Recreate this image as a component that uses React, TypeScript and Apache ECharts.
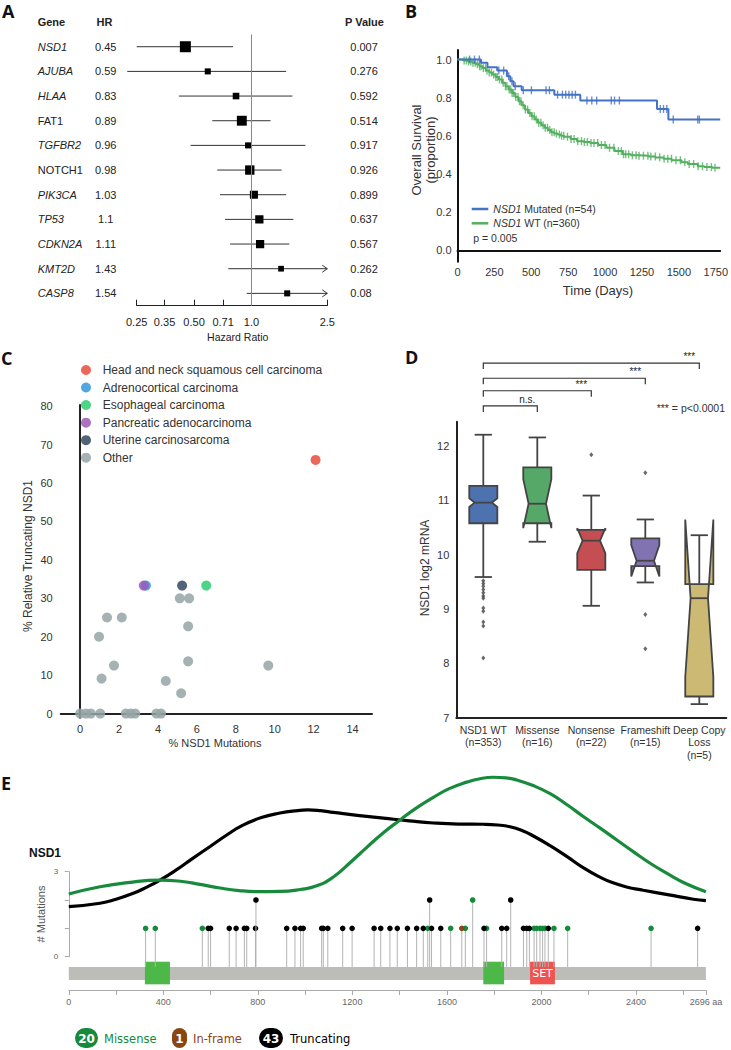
import React, { useEffect, useRef } from "react";
import * as echarts from "echarts";

const FONT = "'Liberation Sans', Arial, Helvetica, sans-serif";
const INK = "#222222";

// ---------------- Panel A : hazard ratios ----------------
const genes = ["NSD1", "AJUBA", "HLAA", "FAT1", "TGFBR2", "NOTCH1", "PIK3CA", "TP53", "CDKN2A", "KMT2D", "CASP8"];
const geneItalic = [true, true, true, false, true, false, true, true, true, true, true];
const hazardRatios = [0.45, 0.59, 0.83, 0.89, 0.96, 0.98, 1.03, 1.1, 1.11, 1.43, 1.54];
const hazardRatioLabels = ["0.45", "0.59", "0.83", "0.89", "0.96", "0.98", "1.03", "1.1", "1.11", "1.43", "1.54"];
const ciLower = [0.25, 0.223, 0.416, 0.623, 0.479, 0.662, 0.684, 0.727, 0.772, 0.756, 0.945];
const ciUpper = [0.8, 1.52, 1.64, 1.26, 1.92, 1.44, 1.52, 1.66, 1.58, 3.1, 3.4];
const pValueLabels = ["0.007", "0.276", "0.592", "0.514", "0.917", "0.926", "0.899", "0.637", "0.567", "0.262", "0.08"];
const studyWeights = [1.0, 0.55, 0.6, 0.9, 0.55, 0.85, 0.73, 0.75, 0.75, 0.52, 0.55];
const hrTicks = [0.25, 0.35, 0.5, 0.71, 1.0, 2.5];
const hrTickLabels = ["0.25", "0.35", "0.50", "0.71", "1.0", "2.5"];
const HR_MIN = 0.25;
const HR_MAX = 2.5;

// ---------------- Panel B : Kaplan-Meier ----------------
const mutatedSteps = [
  [0, 1.0], [159, 0.983], [203, 0.96], [269, 0.942], [335, 0.913], [358, 0.886], [380, 0.86],
  [435, 0.839], [656, 0.816], [832, 0.785], [1352, 0.741], [1429, 0.685], [1780, 0.685],
];
const mutatedCensored = [82, 115, 148, 280, 313, 347, 369, 391, 446, 501, 600, 623, 678, 711, 733, 755, 777, 799, 877, 910, 943, 1042, 1064, 1097, 1374, 1396, 1418, 1462, 1628, 1639];
const wtSteps = [
  [0, 1.0], [40, 0.995], [70, 0.99], [100, 0.983], [125, 0.975], [148, 0.965], [170, 0.955], [192, 0.942],
  [215, 0.932], [236, 0.921], [258, 0.908], [280, 0.895], [302, 0.878], [325, 0.86], [347, 0.843],
  [369, 0.825], [391, 0.803], [413, 0.781], [435, 0.76], [457, 0.738], [479, 0.72], [501, 0.703],
  [523, 0.685], [545, 0.668], [568, 0.655], [590, 0.642], [612, 0.63], [634, 0.619], [656, 0.612],
  [678, 0.607], [700, 0.601], [722, 0.595], [766, 0.583], [810, 0.572], [855, 0.567], [899, 0.562],
  [954, 0.552], [1009, 0.537], [1064, 0.52], [1120, 0.503], [1175, 0.498], [1230, 0.496], [1296, 0.492],
  [1341, 0.487], [1396, 0.48], [1451, 0.472], [1518, 0.462], [1561, 0.452], [1628, 0.44], [1672, 0.436],
  [1727, 0.432], [1780, 0.43],
];
const wtCensored = [45, 60, 75, 90, 105, 120, 135, 150, 160, 175, 190, 200, 215, 230, 245, 260, 270, 285, 300, 310, 325, 335, 350, 360, 370, 380, 395, 410, 420, 430, 445, 460, 475, 490, 505, 520, 535, 550, 565, 580, 595, 610, 625, 640, 655, 670, 690, 705, 720, 745, 770, 790, 815, 840, 860, 880, 905, 925, 950, 975, 1000, 1030, 1060, 1090, 1110, 1125, 1140, 1160, 1185, 1210, 1230, 1260, 1290, 1310, 1340, 1370, 1400, 1425, 1450, 1480, 1510, 1540, 1570, 1600, 1630, 1660, 1690, 1720, 1745];
const survivalTicks = [0, 0.2, 0.4, 0.6, 0.8, 1.0];

// ---------------- Panel C : scatter ----------------
const cancerTypes = ["Head and neck squamous cell carcinoma", "Adrenocortical carcinoma", "Esophageal carcinoma", "Pancreatic adenocarcinoma", "Uterine carcinosarcoma", "Other"];
const hnsccPoints = [[12.1, 66.0]];
const adrenocorticalPoints = [[3.38, 33.3]];
const esophagealPoints = [[6.48, 33.3]];
const pancreaticPoints = [[3.27, 33.3]];
const uterinePoints = [[5.24, 33.3]];
const otherPoints = [
  [5.12, 30], [5.6, 30], [1.38, 25], [2.14, 25], [5.55, 22.7], [0.97, 20], [1.74, 12.5], [5.55, 13.6],
  [9.67, 12.5], [1.1, 9.1], [4.4, 8.5], [5.19, 5.3], [0, 0], [0.3, 0], [0.55, 0], [1.03, 0], [2.35, 0],
  [2.6, 0], [2.83, 0], [3.92, 0], [4.16, 0],
];
const mutationPctTicks = [0, 2, 4, 6, 8, 10, 12, 14];
const truncPctTicks = [0, 10, 20, 30, 40, 50, 60, 70, 80];

// ---------------- Panel D : box plots ----------------
const boxCategories = ["NSD1 WT\n(n=353)", "Missense\n(n=16)", "Nonsense\n(n=22)", "Frameshift\n(n=15)", "Deep Copy\nLoss\n(n=5)"];
const boxLow = [9.59, 10.24, 9.06, 9.49, 7.25];
const boxQ1 = [10.58, 10.58, 9.72, 9.79, 7.39];
const boxMedian = [10.96, 10.94, 10.26, 9.89, 9.2];
const boxQ3 = [11.27, 11.61, 10.46, 10.3, 9.46];
const boxHigh = [12.21, 12.16, 11.09, 10.65, 10.36];
const boxNotch = [0.08, 0.45, 0.23, 0.29, 1.45];
const outlierCategory = [0, 0, 0, 0, 0, 0, 0, 0, 0, 0, 0, 0, 2, 3, 3, 3];
const outlierValue = [9.52, 9.47, 9.42, 9.36, 9.3, 9.24, 9.2, 9.02, 8.96, 8.76, 8.69, 8.1, 11.84, 11.51, 8.9, 8.27];
const bracketTarget = [1, 2, 3, 4];
const bracketLevel = [12.74, 13.02, 13.25, 13.53];
const bracketLabel = ["n.s.", "***", "***", "***"];
const mrnaTicks = [7, 8, 9, 10, 11, 12];

// ---------------- Panel E : lollipop ----------------
const PROTEIN_LENGTH = 2696;
const proteinDomains = [[0, 2696, 0], [322, 428, 1], [1754, 1842, 1], [1952, 2057, 2]];
const missensePos = [325, 366, 565, 1519, 1616, 1678, 1709, 1768, 1969, 1980, 1994, 2005, 2015, 2053, 2111, 2464];
const missenseCount = [1, 1, 1, 1, 1, 1, 2, 1, 1, 1, 1, 1, 1, 1, 1, 1];
const inframePos = [1663];
const inframeCount = [1];
const truncPos = [590, 600, 679, 708, 743, 753, 790, 792, 922, 957, 981, 992, 1070, 1077, 1096, 1159, 1199, 1292, 1320, 1359, 1390, 1433, 1472, 1500, 1527, 1535, 1574, 1757, 1832, 1853, 1870, 1924, 1938, 1949, 2029, 2661];
const truncCount = [1, 1, 1, 1, 1, 1, 1, 2, 1, 1, 1, 1, 1, 1, 1, 1, 1, 1, 1, 1, 1, 1, 1, 1, 2, 1, 1, 1, 1, 1, 2, 1, 1, 1, 1, 1];
const missenseDensity = [
  [0, 0.347], [132, 0.387], [250, 0.41], [386, 0.424], [480, 0.416], [555, 0.4], [640, 0.38], [720, 0.366],
  [800, 0.36], [894, 0.361], [980, 0.372], [1049, 0.392], [1118, 0.44], [1190, 0.52], [1261, 0.605],
  [1330, 0.685], [1402, 0.757], [1470, 0.822], [1543, 0.882], [1610, 0.93], [1684, 0.966], [1740, 0.985],
  [1796, 0.993], [1850, 0.99], [1895, 0.978], [1965, 0.947], [2037, 0.902], [2107, 0.842], [2177, 0.776],
  [2250, 0.71], [2319, 0.646], [2390, 0.58], [2460, 0.517], [2530, 0.462], [2610, 0.405], [2696, 0.36],
];
const truncDensity = [
  [0, 0.277], [132, 0.296], [200, 0.318], [273, 0.351], [330, 0.385], [386, 0.424], [450, 0.476],
  [520, 0.54], [598, 0.61], [670, 0.675], [737, 0.728], [815, 0.77], [894, 0.795], [955, 0.807],
  [1012, 0.812], [1065, 0.808], [1119, 0.799], [1230, 0.781], [1331, 0.767], [1440, 0.752], [1543, 0.74],
  [1650, 0.734], [1754, 0.733], [1815, 0.729], [1867, 0.719], [1920, 0.697], [1966, 0.668], [2040, 0.612],
  [2107, 0.555], [2180, 0.49], [2248, 0.44], [2300, 0.41], [2360, 0.386], [2431, 0.368], [2540, 0.342],
  [2643, 0.318], [2696, 0.31],
];
const proteinTicks = [0, 200, 400, 600, 800, 1000, 1200, 1400, 1600, 1800, 2000, 2200, 2400, 2600, 2696];
const proteinLabels = [0, 400, 800, 1200, 1600, 2000, 2400, 2696];
const legendCounts = ["20", "1", "43"];
const legendNames = ["Missense", "In-frame", "Truncating"];

// ---------------- helpers ----------------
function kmAt(steps: number[][], t: number) {
  let s = steps[0][1];
  for (const [d, v] of steps) { if (d <= t) s = v; else break; }
  return s;
}

const MUT_BLUE = "#4472c4";
const WT_GREEN = "#52b05f";
const SCATTER_COLORS = ["#e74c3c", "#3498db", "#2ecc71", "#9b59b6", "#34495e", "#95a5a6"];
const BOX_COLORS = ["#4c72b0", "#55a868", "#c44e52", "#8172b2", "#ccb974"];
const MISSENSE_GREEN = "#148a3a";
const INFRAME_BROWN = "#8b4513";

function buildOption(): any {
  const lnMin = Math.log(HR_MIN);
  const lnMax = Math.log(HR_MAX);
  const forestRows = genes.map((g, i) => [Math.log(hazardRatios[i]), i, Math.log(ciLower[i]), Math.log(ciUpper[i]), studyWeights[i]]);
  const lnTicks = hrTicks.map((t) => Math.log(t));

  const boxRows = boxCategories.map((c, i) => [i, boxLow[i], boxQ1[i], boxMedian[i], boxQ3[i], boxHigh[i], boxNotch[i]]);
  const outliers = outlierValue.map((v, i) => [outlierCategory[i], v]);
  const brackets = bracketTarget.map((t, i) => [t, bracketLevel[i], i]);

  const lollipops: number[][] = [];
  missensePos.forEach((p, i) => lollipops.push([p, missenseCount[i], 0]));
  inframePos.forEach((p, i) => lollipops.push([p, inframeCount[i], 1]));
  truncPos.forEach((p, i) => lollipops.push([p, truncCount[i], 2]));
  const lolliColors = [MISSENSE_GREEN, INFRAME_BROWN, "#000000"];

  const txt = (x: number, y: number, text: string, st: any = {}, extra: any = {}) => ({
    type: "text", x, y, ...extra,
    style: { text, fontFamily: FONT, fontSize: 11, fill: INK, align: "left", verticalAlign: "middle", ...st },
  });
  const letter = (x: number, y: number, t: string) => txt(x, y, t, { fontSize: 18, fontWeight: "bold", fontFamily: "'Open Sans', 'Liberation Sans', sans-serif", verticalAlign: "middle", fill: "#111" });

  const graphic: any[] = [
    letter(2, 11, "A"), letter(405, 11, "B"), letter(1, 358, "C"), letter(405, 357, "D"), letter(1, 783, "E"),
    // A headers
    txt(37.7, 22.3, "Gene", { fontWeight: "bold" }),
    txt(96.5, 22.3, "HR", { fontWeight: "bold" }),
    txt(345, 22.3, "P Value", { fontWeight: "bold" }),
    txt(237.7, 336.7, "Hazard Ratio", { align: "center", fontSize: 10.5 }),
    // B titles & legend
    txt(416.5, 150, "Overall Survival", { align: "center", fontSize: 13, fill: "#333" }, { rotation: Math.PI / 2 }),
    txt(430, 150, "(proportion)", { align: "center", fontSize: 13, fill: "#333" }, { rotation: Math.PI / 2 }),
    txt(598, 290.7, "Time (Days)", { align: "center", fontSize: 13, fill: "#333" }),
    { type: "line", shape: { x1: 471.7, y1: 209, x2: 488.3, y2: 209 }, style: { stroke: MUT_BLUE, lineWidth: 2.5 } },
    { type: "line", shape: { x1: 471.7, y1: 223.3, x2: 488.3, y2: 223.3 }, style: { stroke: WT_GREEN, lineWidth: 2.5 } },
    txt(493.3, 209, "{i|NSD1} Mutated (n=54)", { fontSize: 10.5, fill: "#333", rich: { i: { fontStyle: "italic", fontSize: 10.5, fontFamily: FONT, fill: "#333" } } }),
    txt(493.3, 223.3, "{i|NSD1} WT (n=360)", { fontSize: 10.5, fill: "#333", rich: { i: { fontStyle: "italic", fontSize: 10.5, fontFamily: FONT, fill: "#333" } } }),
    txt(473.3, 238.3, "p = 0.005", { fontSize: 10.5, fill: "#333" }),
    // C titles
    txt(28, 556, "% Relative Truncating NSD1", { align: "center", fontSize: 12, fill: "#333" }, { rotation: Math.PI / 2 }),
    txt(215, 743.3, "% NSD1 Mutations", { align: "center", fontSize: 11, fill: "#333" }),
    // D titles
    txt(425, 568, "NSD1 log2 mRNA", { align: "center", fontSize: 12, fill: "#333" }, { rotation: Math.PI / 2 }),
    txt(725, 408.3, "*** = p<0.0001", { align: "right", fontSize: 10.5, fill: "#333" }),
    // E titles
    txt(29, 853, "NSD1", { fontWeight: "bold", fontSize: 12, fill: "#111" }),
    txt(41, 914, "# Mutations", { align: "center", fontSize: 11, fill: "#555" }, { rotation: Math.PI / 2 }),
  ];
  // C legend
  const legendYs = [370, 387.5, 405, 422.7, 440.2, 457.7];
  cancerTypes.forEach((name, i) => {
    graphic.push({ type: "circle", shape: { cx: 86, cy: legendYs[i], r: 5 }, style: { fill: SCATTER_COLORS[i], opacity: 0.85 } });
    graphic.push(txt(102.7, legendYs[i], name, { fontSize: 12, fill: "#333" }));
  });
  // E legend
  const pill = [[75, 23], [172, 15], [259, 24]];
  const nameX = [104, 193, 290];
  const pillCol = [MISSENSE_GREEN, INFRAME_BROWN, "#000"];
  legendCounts.forEach((c, i) => {
    graphic.push({ type: "rect", shape: { x: pill[i][0], y: 1028, width: pill[i][1], height: 20, r: pill[i][1] / 2 }, style: { fill: pillCol[i] } });
    graphic.push(txt(pill[i][0] + pill[i][1] / 2, 1038.5, c, { align: "center", fill: "#fff", fontWeight: "bold", fontSize: 12, fontFamily: "'DejaVu Sans', sans-serif" }));
    graphic.push(txt(nameX[i], 1038.5, legendNames[i], { fill: pillCol[i], fontSize: 11.5, fontFamily: "'DejaVu Sans', sans-serif" }));
  });

  return {
    animation: false,
    backgroundColor: "#ffffff",
    textStyle: { fontFamily: FONT },
    graphic,
    grid: [
      { left: 136.7, top: 34.4, width: 190.6, height: 271.3 },
      { left: 457.5, top: 50, width: 269.2, height: 211.7 },
      { left: 60.7, top: 405, width: 311.3, height: 312.7 },
      { left: 456.3, top: 421.7, width: 270, height: 296 },
      { left: 68.8, top: 871.7, width: 637.1, height: 85 },
      { left: 68.8, top: 989, width: 637.1, height: 1 },
    ],
    xAxis: [
      {
        gridIndex: 0, type: "value", min: lnMin, max: lnMax,
        axisLine: { show: true, lineStyle: { color: "#222", width: 1 } },
        axisTick: { show: true, inside: true, length: 6, customValues: lnTicks, lineStyle: { color: "#222" } },
        axisLabel: {
          customValues: lnTicks, margin: 11, fontSize: 11, color: INK,
          formatter: (v: number) => { const k = lnTicks.findIndex((t) => Math.abs(t - v) < 1e-6); return k >= 0 ? hrTickLabels[k] : ""; },
        },
        splitLine: { show: false },
      },
      {
        gridIndex: 1, type: "value", min: 0, max: 1780, interval: 250,
        axisLine: { show: true, lineStyle: { color: "#111", width: 2 } },
        axisTick: { show: false }, splitLine: { show: false },
        axisLabel: { fontSize: 11, color: "#333", margin: 5, formatter: (v: number) => String(v) },
      },
      {
        gridIndex: 2, type: "value", min: -1, max: 15,
        axisLine: { show: true, lineStyle: { color: "#222", width: 2 } },
        axisTick: { show: false }, splitLine: { show: false },
        axisLabel: { customValues: mutationPctTicks, fontSize: 11, color: "#333", margin: 6 },
      },
      {
        gridIndex: 3, type: "category", data: boxCategories,
        axisLine: { show: true, lineStyle: { color: "#222", width: 2 } },
        axisTick: { show: false },
        axisLabel: { interval: 0, fontSize: 10.5, color: "#333", lineHeight: 12.5, margin: 6 },
      },
      { gridIndex: 4, type: "value", min: 0, max: PROTEIN_LENGTH, show: false },
      {
        gridIndex: 5, type: "value", min: 0, max: PROTEIN_LENGTH,
        axisLine: { show: true, lineStyle: { color: "#aaa", width: 1 } },
        axisTick: { show: true, length: 5, customValues: proteinTicks, lineStyle: { color: "#aaa" } },
        axisLabel: { customValues: proteinLabels, fontSize: 9, color: "#666", margin: 7, formatter: (v: number) => (v === PROTEIN_LENGTH ? PROTEIN_LENGTH + " aa" : String(v)) },
        splitLine: { show: false },
      },
    ],
    yAxis: [
      {
        gridIndex: 0, type: "category", data: genes, inverse: true,
        axisLine: { show: false }, axisTick: { show: false },
        axisLabel: {
          align: "left", margin: 99, fontSize: 11, color: INK,
          formatter: (v: string, idx: number) => (geneItalic[idx] ? `{i|${v}}` : `{n|${v}}`),
          rich: { i: { fontStyle: "italic", fontSize: 11, color: INK, fontFamily: FONT }, n: { fontSize: 11, color: INK, fontFamily: FONT } },
        },
      },
      {
        gridIndex: 0, type: "category", data: hazardRatioLabels, inverse: true, position: "left",
        axisLine: { show: false }, axisTick: { show: false },
        axisLabel: { align: "center", margin: 31, fontSize: 11, color: INK },
      },
      {
        gridIndex: 0, type: "category", data: pValueLabels, inverse: true, position: "right",
        axisLine: { show: false }, axisTick: { show: false },
        axisLabel: { align: "left", margin: 23, fontSize: 11, color: INK },
      },
      {
        gridIndex: 1, type: "value", min: -0.06, max: 1.05,
        axisLine: { show: true, lineStyle: { color: "#111", width: 2 } },
        axisTick: { show: false }, splitLine: { show: false },
        axisLabel: { customValues: survivalTicks, fontSize: 11, color: "#333", margin: 6, formatter: (v: number) => v.toFixed(1) },
      },
      {
        gridIndex: 2, type: "value", min: -1.07, max: 80.3,
        axisLine: { show: true, lineStyle: { color: "#222", width: 2 } },
        axisTick: { show: false }, splitLine: { show: false },
        axisLabel: { customValues: truncPctTicks, fontSize: 11, color: "#333", margin: 8 },
      },
      {
        gridIndex: 3, type: "value", min: 7, max: 12.45,
        axisLine: { show: true, lineStyle: { color: "#222", width: 2 } },
        axisTick: { show: false }, splitLine: { show: false },
        axisLabel: { customValues: mrnaTicks, fontSize: 11, color: "#333", margin: 7 },
      },
      {
        gridIndex: 4, type: "value", min: 0, max: 3, interval: 1, offset: 5.5,
        axisLine: { show: true, lineStyle: { color: "#aaa", width: 1 } },
        axisTick: { show: true, length: 4, lineStyle: { color: "#aaa" } },
        splitLine: { show: false },
        axisLabel: { fontSize: 8, color: "#666", margin: 5, formatter: (v: number) => (v === 0 || v === 3 ? String(v) : "") },
      },
      { gridIndex: 4, type: "value", min: 0, max: 0.4704, show: false },
      { gridIndex: 5, type: "value", min: 0, max: 1, show: false },
    ],
    series: [
      // ---- A forest
      {
        type: "custom", xAxisIndex: 0, yAxisIndex: 0, data: forestRows, encode: { x: [0, 2], y: 1 }, clip: false,
        renderItem: (params: any, api: any) => {
          const row = api.value(1);
          const c = api.coord([api.value(0), row]);
          const lo = api.coord([api.value(2), row]);
          const hiV = api.value(3);
          const over = hiV > lnMax;
          const hi = api.coord([over ? lnMax : hiV, row]);
          const s = api.value(4) * 11;
          const children: any[] = [
            { type: "line", shape: { x1: lo[0], y1: c[1], x2: hi[0], y2: c[1] }, style: { stroke: "#333", lineWidth: 1 } },
            { type: "rect", shape: { x: c[0] - s / 2, y: c[1] - s / 2, width: s, height: s }, style: { fill: "#000" } },
          ];
          if (over) {
            children.push({ type: "polyline", shape: { points: [[hi[0] - 5, c[1] - 3.5], [hi[0], c[1]], [hi[0] - 5, c[1] + 3.5]] }, style: { stroke: "#333", fill: "none", lineWidth: 1 } });
          }
          return { type: "group", children };
        },
        markLine: { silent: true, symbol: ["none", "none"], label: { show: false }, lineStyle: { color: "#888", type: "solid", width: 1 }, data: [{ xAxis: 0 }] },
      },
      // ---- B KM
      { type: "line", xAxisIndex: 1, yAxisIndex: 3, data: wtSteps, step: "end", showSymbol: false, lineStyle: { color: WT_GREEN, width: 2 }, z: 3 },
      { type: "scatter", xAxisIndex: 1, yAxisIndex: 3, data: wtCensored.map((d) => [d, kmAt(wtSteps, d)]), symbol: "rect", symbolSize: [1.4, 8], itemStyle: { color: WT_GREEN }, z: 3 },
      { type: "line", xAxisIndex: 1, yAxisIndex: 3, data: mutatedSteps, step: "end", showSymbol: false, lineStyle: { color: MUT_BLUE, width: 2 }, z: 4 },
      { type: "scatter", xAxisIndex: 1, yAxisIndex: 3, data: mutatedCensored.map((d) => [d, kmAt(mutatedSteps, d)]), symbol: "rect", symbolSize: [1.4, 8], itemStyle: { color: MUT_BLUE }, z: 4 },
      // ---- C scatter
      ...[otherPoints, hnsccPoints, adrenocorticalPoints, esophagealPoints, uterinePoints, pancreaticPoints].map((pts, k) => {
        const colorIdx = [5, 0, 1, 2, 4, 3][k];
        return { type: "scatter", name: cancerTypes[colorIdx], xAxisIndex: 2, yAxisIndex: 4, data: pts, symbolSize: 10, itemStyle: { color: SCATTER_COLORS[colorIdx], opacity: 0.85 } };
      }),
      // ---- D boxes
      {
        type: "custom", xAxisIndex: 3, yAxisIndex: 5, data: boxRows, encode: { x: 0, y: [1, 5] }, clip: false,
        renderItem: (params: any, api: any) => {
          const i = api.value(0);
          const low = api.value(1), q1 = api.value(2), med = api.value(3), q3 = api.value(4), high = api.value(5), ci = api.value(6);
          const band = api.size([1, 0])[0];
          const hw = band * 0.26, nw = hw * 0.62, cw = band * 0.16;
          const cx = api.coord([i, med])[0];
          const y = (v: number) => api.coord([i, v])[1];
          const edge = { stroke: "#444", lineWidth: 1.8, fill: "none" };
          const pts = [
            [cx - hw, y(q1)], [cx - hw, y(med - ci)], [cx - nw, y(med)], [cx - hw, y(med + ci)], [cx - hw, y(q3)],
            [cx + hw, y(q3)], [cx + hw, y(med + ci)], [cx + nw, y(med)], [cx + hw, y(med - ci)], [cx + hw, y(q1)],
          ];
          return {
            type: "group",
            children: [
              { type: "line", shape: { x1: cx, y1: y(q3), x2: cx, y2: y(high) }, style: edge },
              { type: "line", shape: { x1: cx, y1: y(q1), x2: cx, y2: y(low) }, style: edge },
              { type: "line", shape: { x1: cx - cw, y1: y(high), x2: cx + cw, y2: y(high) }, style: edge },
              { type: "line", shape: { x1: cx - cw, y1: y(low), x2: cx + cw, y2: y(low) }, style: edge },
              { type: "polygon", shape: { points: pts }, style: { fill: BOX_COLORS[i], stroke: "#444", lineWidth: 1.8 } },
              { type: "line", shape: { x1: cx - nw, y1: y(med), x2: cx + nw, y2: y(med) }, style: edge },
            ],
          };
        },
      },
      { type: "scatter", xAxisIndex: 3, yAxisIndex: 5, data: outliers, symbol: "diamond", symbolSize: [4, 5], itemStyle: { color: "#444" } },
      {
        type: "custom", xAxisIndex: 3, yAxisIndex: 5, data: brackets, encode: { x: 0, y: 1 }, clip: false,
        renderItem: (params: any, api: any) => {
          const t = api.value(0), lvl = api.value(1), k = api.value(2);
          const p0 = api.coord([0, lvl]);
          const p1 = api.coord([t, lvl]);
          return {
            type: "group",
            children: [
              { type: "polyline", shape: { points: [[p0[0], p0[1] + 6], [p0[0], p0[1]], [p1[0], p1[1]], [p1[0], p1[1] + 6]] }, style: { stroke: "#333", fill: "none", lineWidth: 1.2 } },
              { type: "text", style: { text: bracketLabel[k], x: p1[0] - 10, y: p1[1] - 1.5, align: "center", verticalAlign: "bottom", fontSize: 10, fontFamily: FONT, fill: "#222" } },
            ],
          };
        },
      },
      // ---- E protein & lollipops
      {
        type: "custom", xAxisIndex: 4, yAxisIndex: 6, data: proteinDomains, encode: { x: [0, 1], y: 2 }, clip: false, z: 2,
        renderItem: (params: any, api: any) => {
          const s = api.value(0), e = api.value(1), kind = api.value(2);
          const top = kind === 0 ? -0.364 : -0.177;
          const bot = kind === 0 ? -0.823 : -0.975;
          const a = api.coord([s, top]);
          const b = api.coord([e, bot]);
          const fill = kind === 0 ? "#bcbdb7" : kind === 1 ? "#4cb848" : "#ef5350";
          const children: any[] = [{ type: "rect", shape: { x: a[0], y: a[1], width: b[0] - a[0], height: b[1] - a[1] }, style: { fill } }];
          if (kind === 2) {
            children.push({ type: "text", style: { text: "SET", x: (a[0] + b[0]) / 2, y: (a[1] + b[1]) / 2, align: "center", verticalAlign: "middle", fontSize: 11, fontFamily: "'DejaVu Sans', sans-serif", fill: "#fff" } });
          }
          return { type: "group", children };
        },
      },
      {
        type: "custom", xAxisIndex: 4, yAxisIndex: 6, data: lollipops, encode: { x: 0, y: 1 }, clip: false, z: 3,
        renderItem: (params: any, api: any) => {
          const p = api.value(0), c = api.value(1), k = api.value(2);
          const base = api.coord([p, -0.364]);
          const head = api.coord([p, c]);
          return {
            type: "group",
            children: [
              { type: "line", shape: { x1: base[0], y1: base[1], x2: head[0], y2: head[1] }, style: { stroke: "#b3b3b3", lineWidth: 1 } },
              { type: "circle", shape: { cx: head[0], cy: head[1], r: 2.8 }, style: { fill: lolliColors[k] } },
            ],
          };
        },
      },
      { type: "line", xAxisIndex: 4, yAxisIndex: 7, data: truncDensity, smooth: 0.5, showSymbol: false, clip: false, lineStyle: { color: "#000", width: 3.2 }, z: 5 },
      { type: "line", xAxisIndex: 4, yAxisIndex: 7, data: missenseDensity, smooth: 0.5, showSymbol: false, clip: false, lineStyle: { color: "#178a3c", width: 3.2 }, z: 5 },
    ],
  };
}

export default function App() {
  const ref = useRef<HTMLDivElement>(null);
  useEffect(() => {
    if (!ref.current) return;
    const chart = echarts.init(ref.current, null, { renderer: "svg" });
    chart.setOption(buildOption());
    return () => chart.dispose();
  }, []);
  return <div ref={ref} style={{ position: "absolute", left: 0, top: 0, width: 731, height: 1050, background: "#fff" }} />;
}
